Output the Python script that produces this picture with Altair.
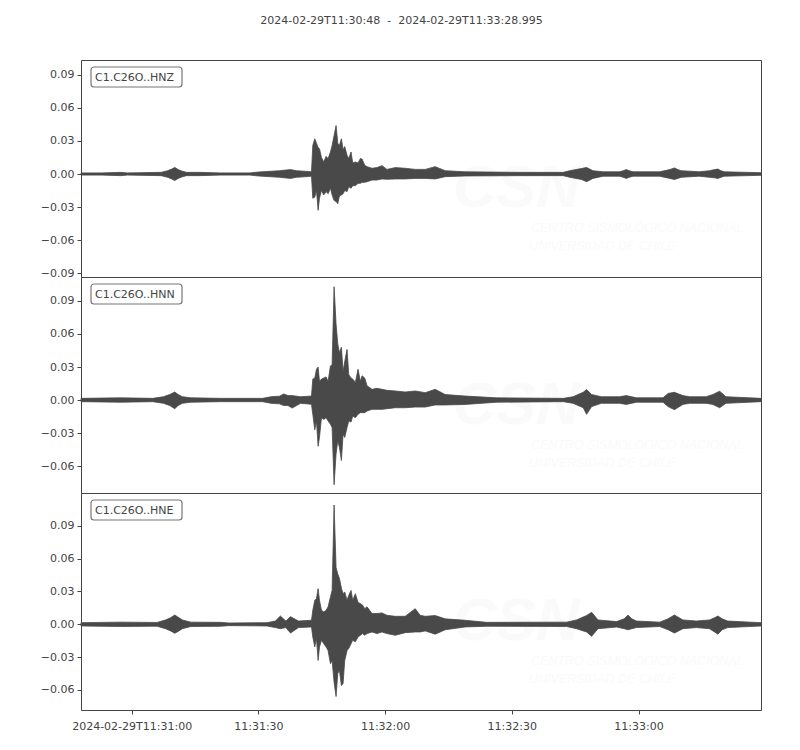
import altair as alt
import pandas as pd

TITLE = "2024-02-29T11:30:48\u00a0\u00a0-\u00a0\u00a02024-02-29T11:33:28.995"
CHANNELS = ["C1.C26O..HNZ", "C1.C26O..HNN", "C1.C26O..HNE"]
DURATION = 160.995  # seconds after 11:30:48
X_TICKS = [12, 42, 72, 102, 132]
X_LABELS = ["2024-02-29T11:31:00", "11:31:30", "11:32:00", "11:32:30", "11:33:00"]

Y_TICKS = [
    [-0.09, -0.06, -0.03, 0.0, 0.03, 0.06, 0.09],
    [-0.06, -0.03, 0.0, 0.03, 0.06, 0.09],
    [-0.06, -0.03, 0.0, 0.03, 0.06, 0.09],
]
Y_DOMAINS = [[-0.0936, 0.1036], [-0.0845, 0.1118], [-0.0783, 0.1200]]

# envelope of each trace (seconds after 11:30:48, upper and lower amplitude)
HNZ_T = [0, 5, 9.4, 11, 19, 20.5, 21.5, 22.2, 23, 24, 25, 28,
         33, 40, 42, 45, 47, 49.6, 51, 53,
         54.57, 54.88, 55.35, 55.75, 56.14, 56.46, 56.93, 57.48, 58.03, 58.50,
         59.06, 59.45, 59.92, 60.39, 60.79, 61.18, 61.65, 62.05, 62.44, 62.99,
         63.39, 63.94, 64.33, 64.96, 65.59, 66.14, 66.54, 67.17, 67.72, 68.90,
         70.08, 71.26, 72.44, 74.41, 76.77, 79.13, 81.50, 83.86, 86.22, 90.94,
         103.9, 114.2, 115.7, 118.5, 119.7, 121.2, 123.6, 127.5, 128.4, 129.1,
         129.8, 130.7, 137.0, 139.4, 140.5, 141.3, 142.1, 146.4, 148.8, 150.0,
         150.8, 151.5, 152.3, 160.995]
HNZ_UP = [0.001, 0.001, 0.0015, 0.001, 0.0015, 0.003, 0.0045, 0.006, 0.004, 0.0025, 0.0015, 0.0015,
          0.001, 0.001, 0.0018, 0.0025, 0.003, 0.004, 0.003, 0.0025,
          0.002, 0.026, 0.032, 0.028, 0.024, 0.023, 0.015, 0.011, 0.016, 0.014,
          0.020, 0.026, 0.035, 0.044, 0.028, 0.026, 0.032, 0.022, 0.025, 0.017,
          0.014, 0.020, 0.010, 0.011, 0.010, 0.014, 0.0136, 0.008, 0.0067, 0.0052,
          0.0058, 0.0076, 0.0042, 0.0058, 0.0052, 0.0042, 0.0042, 0.0067, 0.003, 0.002,
          0.0015, 0.0015, 0.003, 0.005, 0.006, 0.003, 0.002, 0.002, 0.003, 0.004,
          0.003, 0.002, 0.002, 0.004, 0.0055, 0.004, 0.003, 0.002, 0.003, 0.004,
          0.0045, 0.003, 0.002, 0.0012]
HNZ_LO = [-0.001, -0.001, -0.0015, -0.001, -0.0015, -0.003, -0.0045, -0.006, -0.004, -0.0025, -0.0015, -0.0015,
          -0.001, -0.001, -0.0018, -0.0025, -0.003, -0.004, -0.003, -0.0025,
          -0.002, -0.022, -0.021, -0.015, -0.033, -0.022, -0.015, -0.019, -0.016, -0.018,
          -0.013, -0.019, -0.024, -0.025, -0.027, -0.020, -0.019, -0.018, -0.015, -0.016,
          -0.0115, -0.013, -0.0106, -0.0106, -0.0085, -0.0085, -0.0076, -0.0076, -0.007, -0.0055,
          -0.0055, -0.0045, -0.0048, -0.0045, -0.0045, -0.004, -0.004, -0.0045, -0.0024, -0.0018,
          -0.0015, -0.0015, -0.003, -0.005, -0.007, -0.004, -0.002, -0.002, -0.003, -0.004,
          -0.003, -0.002, -0.002, -0.004, -0.005, -0.004, -0.003, -0.002, -0.003, -0.0035,
          -0.004, -0.003, -0.002, -0.0012]

HNN_T = [0, 9.4, 17, 19.5, 21, 22.2, 23, 24, 26, 33, 43, 45,
         47, 48, 49, 50, 52,
         54.57, 54.88, 55.35, 55.75, 56.14, 56.46, 56.93, 57.48, 58.03, 58.50,
         59.06, 59.45, 59.92, 60.39, 60.79, 61.18, 61.65, 62.05, 62.44, 62.99,
         63.39, 63.94, 64.33, 64.96, 65.59, 66.14, 66.54, 67.17, 67.72, 68.90,
         70.08, 71.26, 72.44, 74.41, 76.77, 79.13, 81.50, 83.86, 86.22, 90.94,
         98.4, 114.2, 116.5, 118.9, 119.7, 120.9, 123.2, 127.5, 129.1, 131.5,
         137.8, 139.0, 140.5, 142.5, 144.1, 148.0, 149.6, 151.2, 152.7, 160.995]
HNN_UP = [0.0015, 0.002, 0.0015, 0.003, 0.005, 0.0073, 0.005, 0.003, 0.002, 0.0015, 0.0015, 0.003,
          0.0035, 0.0055, 0.004, 0.004, 0.003,
          0.0036, 0.019, 0.020, 0.028, 0.030, 0.017, 0.019, 0.020, 0.021, 0.017,
          0.031, 0.032, 0.103, 0.069, 0.051, 0.043, 0.048, 0.026, 0.035, 0.046,
          0.023, 0.020, 0.019, 0.016, 0.028, 0.017, 0.022, 0.020, 0.013, 0.0097,
          0.0106, 0.0097, 0.0088, 0.0082, 0.0073, 0.0082, 0.0067, 0.0097, 0.005, 0.0036,
          0.002, 0.0015, 0.003, 0.007, 0.0095, 0.005, 0.003, 0.003, 0.004, 0.002,
          0.002, 0.006, 0.007, 0.004, 0.003, 0.003, 0.005, 0.008, 0.003, 0.0015]
HNN_LO = [-0.0015, -0.002, -0.0015, -0.003, -0.005, -0.0079, -0.005, -0.003, -0.002, -0.0015, -0.0015, -0.003,
          -0.0035, -0.005, -0.005, -0.0073, -0.003,
          -0.0039, -0.013, -0.027, -0.019, -0.042, -0.034, -0.016, -0.0176, -0.016, -0.019,
          -0.022, -0.025, -0.077, -0.049, -0.037, -0.043, -0.055, -0.031, -0.034, -0.025,
          -0.019, -0.020, -0.0145, -0.016, -0.013, -0.0115, -0.0115, -0.0115, -0.010, -0.0085,
          -0.0085, -0.0085, -0.0079, -0.007, -0.007, -0.0064, -0.0064, -0.0045, -0.0045, -0.004,
          -0.002, -0.0015, -0.003, -0.007, -0.013, -0.006, -0.003, -0.003, -0.004, -0.002,
          -0.002, -0.006, -0.0088, -0.004, -0.003, -0.003, -0.004, -0.007, -0.003, -0.0015]

HNE_T = [0, 9.4, 18, 20, 21.2, 22.2, 23.2, 24, 26, 33, 35, 44,
         46, 47.2, 48.5, 49.6, 51.5,
         54.57, 54.88, 55.35, 55.75, 56.14, 56.46, 56.93, 57.48, 58.03, 58.50,
         59.06, 59.45, 59.92, 60.39, 60.79, 61.18, 61.65, 62.05, 62.44, 62.99,
         63.39, 63.94, 64.33, 64.96, 65.59, 66.14, 66.69, 67.17, 67.72, 68.90,
         70.08, 71.26, 72.44, 74.41, 76.77, 79.13, 80.31, 81.50, 83.86, 86.22, 90.94,
         96.0, 115.0, 117.3, 119.7, 120.9, 122.4, 126.8, 128.6, 129.5, 130.4, 131.5,
         137.0, 139.0, 140.5, 142.5, 145.7, 148.8, 150.0, 150.8, 151.8, 153.1, 160.995]
HNE_UP = [0.0015, 0.002, 0.0017, 0.004, 0.006, 0.0085, 0.006, 0.004, 0.002, 0.0018, 0.0012, 0.0015,
          0.003, 0.0076, 0.003, 0.007, 0.003,
          0.0037, 0.0128, 0.022, 0.0235, 0.0326, 0.022, 0.0128, 0.0113, 0.0128, 0.016,
          0.025, 0.031, 0.109, 0.052, 0.046, 0.042, 0.033, 0.028, 0.0296, 0.022,
          0.0265, 0.031, 0.022, 0.028, 0.020, 0.019, 0.0174, 0.0143, 0.016, 0.0098,
          0.0098, 0.0104, 0.0082, 0.0073, 0.0073, 0.0143, 0.0082, 0.0073, 0.008, 0.005, 0.0037,
          0.0018, 0.002, 0.004, 0.008, 0.011, 0.004, 0.0025, 0.005, 0.0085, 0.005, 0.003,
          0.002, 0.005, 0.0085, 0.004, 0.003, 0.004, 0.006, 0.0076, 0.005, 0.003, 0.0015]
HNE_LO = [-0.0015, -0.002, -0.0017, -0.004, -0.006, -0.0082, -0.006, -0.004, -0.002, -0.0018, -0.0012, -0.0015,
          -0.003, -0.004, -0.003, -0.008, -0.003,
          -0.0024, -0.0116, -0.0207, -0.013, -0.033, -0.0207, -0.0146, -0.0177, -0.0207, -0.024,
          -0.036, -0.033, -0.053, -0.066, -0.045, -0.042, -0.056, -0.054, -0.033, -0.024,
          -0.022, -0.0177, -0.0146, -0.016, -0.0116, -0.010, -0.0085, -0.010, -0.0085, -0.007,
          -0.0085, -0.007, -0.0085, -0.010, -0.0076, -0.007, -0.007, -0.006, -0.009, -0.005, -0.0024,
          -0.0018, -0.002, -0.004, -0.007, -0.011, -0.004, -0.0025, -0.004, -0.005, -0.004, -0.003,
          -0.002, -0.005, -0.008, -0.004, -0.003, -0.004, -0.007, -0.009, -0.005, -0.003, -0.0015]

TRACES = [(HNZ_T, HNZ_UP, HNZ_LO), (HNN_T, HNN_UP, HNN_LO), (HNE_T, HNE_UP, HNE_LO)]
PANEL_HEIGHTS = [217, 216, 217]

WAVE = "#494949"
TEXT = "#444444"
WATERMARK = "#fafafa"
FONT = "DejaVu Sans"

label_expr = " : ".join(
    f"datum.value == {v} ? '{l}'" for v, l in zip(X_TICKS, X_LABELS)
) + " : ''"


def panel(i):
    t, up, lo = TRACES[i]
    df = pd.DataFrame({"t": t, "up": up, "lo": lo})
    show_x = i == len(TRACES) - 1
    x_axis = alt.Axis(values=X_TICKS, labelExpr=label_expr, title=None, grid=False,
                      domain=False, tickSize=4, labelPadding=6) if show_x else None
    x = alt.X("t:Q", scale=alt.Scale(domain=[0, DURATION], nice=False, zero=False), axis=x_axis)
    y = alt.Y("up:Q", scale=alt.Scale(domain=Y_DOMAINS[i], nice=False, zero=False),
              axis=alt.Axis(values=Y_TICKS[i], format=".2f", title=None, grid=False,
                            domain=False, tickSize=4, labelPadding=3))
    wave = alt.Chart(df).mark_area(color=WAVE, stroke=WAVE, strokeWidth=0.8,
                                   interpolate="linear", opacity=1).encode(
        x=x, y=y, y2="lo:Q")

    one = pd.DataFrame({"label": [CHANNELS[i]]})
    wm = pd.DataFrame({"a": ["CSN"], "b": ["CENTRO SISMOLÓGICO NACIONAL"], "c": ["UNIVERSIDAD DE CHILE"]})
    wm1 = alt.Chart(wm).mark_text(font="Liberation Sans", fontSize=60, fontWeight="bold",
                                  fontStyle="italic", color=WATERMARK, align="left",
                                  baseline="alphabetic").encode(
        x=alt.value(372), y=alt.value(147), text="a:N")
    wm2 = alt.Chart(wm).mark_text(font="Liberation Sans", fontSize=12.5, fontStyle="italic",
                                  color=WATERMARK, align="left", baseline="alphabetic").encode(
        x=alt.value(450), y=alt.value(172), text="b:N")
    wm3 = alt.Chart(wm).mark_text(font="Liberation Sans", fontSize=12.5, fontStyle="italic",
                                  color=WATERMARK, align="left", baseline="alphabetic").encode(
        x=alt.value(448), y=alt.value(190), text="c:N")

    box = alt.Chart(one).mark_rect(fill="white", stroke="#777777", strokeWidth=1.2,
                                   cornerRadius=3).encode(
        x=alt.value(10), x2=alt.value(101), y=alt.value(7), y2=alt.value(27))
    lab = alt.Chart(one).mark_text(font=FONT, fontSize=11, color=TEXT, align="left",
                                   baseline="middle").encode(
        x=alt.value(14), y=alt.value(17.5), text="label:N")
    return alt.layer(wm1, wm2, wm3, wave, box, lab).properties(width=680, height=PANEL_HEIGHTS[i])


chart = alt.vconcat(*[panel(i) for i in range(3)], spacing=0, bounds="flush").properties(
    title=alt.Title(TITLE, fontSize=11, font=FONT, fontWeight="normal", color=TEXT,
                    anchor="middle", offset=34),
    padding={"left": 31, "top": 6, "right": 5, "bottom": 5},
).configure_view(stroke="#444444", strokeWidth=1).configure_axis(
    labelFont=FONT, labelFontSize=11, labelColor=TEXT, tickColor="#444444", tickWidth=1
)

chart.save("out.html", embed_options={"renderer": "svg", "actions": False})
